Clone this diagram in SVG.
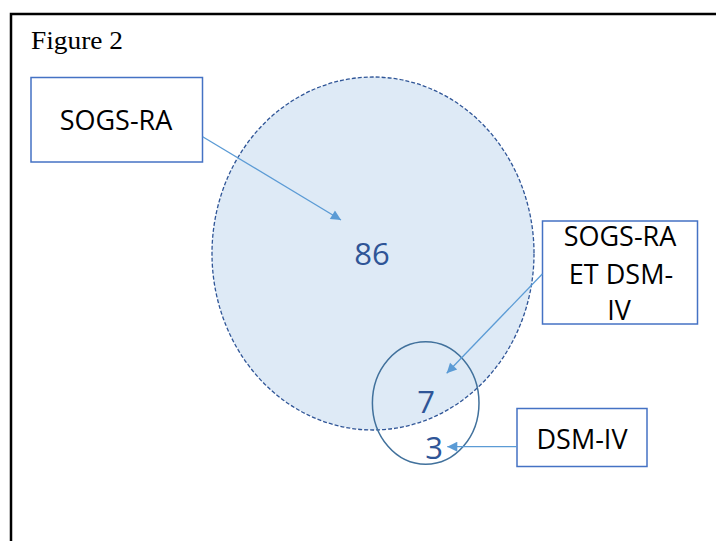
<svg xmlns="http://www.w3.org/2000/svg" width="716" height="541" viewBox="0 0 716 541">
  <style>
    .box { fill: #ffffff; stroke: #4472C4; stroke-width: 1.5; }
    .label { font-family: "Open Sans", "Liberation Sans", sans-serif; font-size: 27px; fill: #000000; text-anchor: middle; }
    .num { font-family: "Open Sans", "Liberation Sans", sans-serif; font-size: 31px; fill: #2F5597; text-anchor: middle; }
    .conn { stroke: #5B9BD5; stroke-width: 1.3; fill: none; marker-end: url(#arrow); }
  </style>
  <defs>
    <marker id="arrow" viewBox="0 0 10 10" refX="10" refY="5" markerWidth="14" markerHeight="10" markerUnits="userSpaceOnUse" orient="auto">
      <path d="M0,0 L10,5 L0,10 Z" fill="#5B9BD5"/>
    </marker>
  </defs>

  <rect width="716" height="541" fill="#ffffff"/>
  <!-- page frame: only its top and left edges fall inside the view -->
  <rect x="11" y="14" width="720" height="540" fill="none" stroke="#000000" stroke-width="2.5"/>

  <text x="31" y="49" font-family="'Liberation Serif', serif" font-size="25" textLength="92" lengthAdjust="spacingAndGlyphs" fill="#000000">Figure 2</text>

  <g id="set-sogs">
    <ellipse cx="373" cy="253.5" rx="161" ry="176.5" fill="#DEEAF6" stroke="#2F5597" stroke-width="1.3" stroke-dasharray="4 2"/>
    <text class="num" x="372" y="265">86</text>
  </g>

  <g id="set-dsm">
    <ellipse cx="425.7" cy="403" rx="53.3" ry="61.3" fill="none" stroke="#41719C" stroke-width="1.5"/>
    <text class="num" x="426" y="413">7</text>
    <text class="num" x="434" y="459">3</text>
  </g>

  <g id="label-sogs">
    <rect class="box" x="31" y="77.5" width="171.5" height="84.5"/>
    <text class="label" x="116" y="130">SOGS-RA</text>
  </g>

  <g id="label-both">
    <rect class="box" x="542.5" y="221" width="155" height="103"/>
    <text class="label" x="620" y="246">SOGS-RA</text>
    <text class="label" x="621" y="284">ET DSM-</text>
    <text class="label" x="619" y="320">IV</text>
  </g>

  <g id="label-dsm">
    <rect class="box" x="517" y="408.5" width="130" height="58"/>
    <text class="label" x="582" y="449">DSM-IV</text>
  </g>

  <g id="connectors">
    <line class="conn" x1="202.7" y1="136.7" x2="341" y2="220"/>
    <line class="conn" x1="542.3" y1="274" x2="446.7" y2="373.3"/>
    <line class="conn" x1="517" y1="446.7" x2="447.3" y2="446.7"/>
  </g>
</svg>
